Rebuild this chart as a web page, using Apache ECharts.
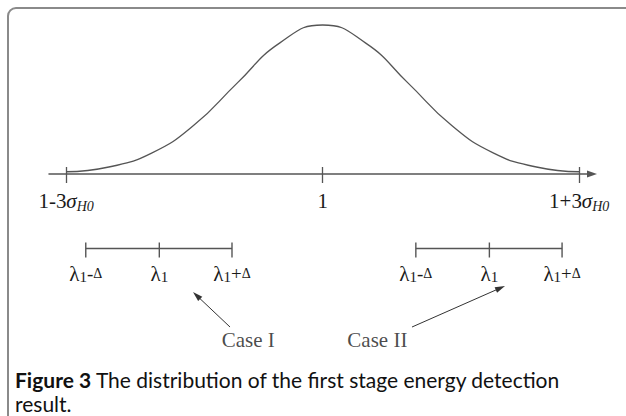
<!DOCTYPE html>
<html>
<head>
<meta charset="utf-8">
<script src="https://cdn.jsdelivr.net/npm/echarts@6/dist/echarts.min.js"></script>
<style>
  html, body { margin: 0; padding: 0; background: #fff; }
  #chart { width: 626px; height: 416px; }
</style>
</head>
<body>
<div id="chart"></div>
<script>
// x in units of sigma around the mean (1), y as fraction of the peak height
var curveX = [-3, -2.5, -2, -1.5, -1, -0.5, 0, 0.5, 1, 1.5, 2, 2.5, 3];
var curveY = [0.015, 0.047, 0.14, 0.33, 0.61, 0.88, 1.0, 0.88, 0.61, 0.33, 0.14, 0.047, 0.015];

// axis ticks and their labels
var tickValues = [-3, 0, 3];
var tickLabels = ["1-3σ_H0", "1", "1+3σ_H0"];

// the two threshold intervals below the axis
var caseIX = [-2.77, -1.91, -1.06];
var caseIIX = [1.09, 1.95, 2.8];
var intervalY = -0.5;
var intervalLabels = ["λ1-Δ", "λ1", "λ1+Δ"];

// case names and arrows pointing to the intervals
var caseNames = ["Case I", "Case II"];
var caseNameX = [-0.87, 0.64];
var caseNameY = -1.114;
var arrowFrom = [[-1.083, -1.027], [1.045, -1.027]];
var arrowTo = [[-1.474, -0.815], [2.079, -0.765]];

var captionBold = "Figure 3";
var captionText = " The distribution of the first stage energy detection\nresult.";

var SERIF = "'Liberation Serif', 'DejaVu Serif', serif";

function tickFormatter(value) {
  var i = tickValues.indexOf(value);
  if (i < 0) return "";
  var t = tickLabels[i];
  if (t.indexOf("σ") < 0) return "{a|" + t + "}";
  var parts = t.split("σ");
  return "{a|" + parts[0] + "}{s|σ}{sub|" + parts[1].replace("_", "") + "}";
}

function intervalFormatter(p) {
  var t = intervalLabels[p.dataIndex];
  var rest = t.replace("λ1", "");
  var out = "{l|λ}{n|1}";
  if (rest) out += "{o|" + rest.charAt(0) + "}{d|" + rest.slice(1) + "}";
  return out;
}

var intervalRich = {
  l: { fontFamily: SERIF, fontSize: 21, color: "#1a1a1a", lineHeight: 22 },
  n: { fontFamily: SERIF, fontSize: 15, color: "#1a1a1a", verticalAlign: "bottom", lineHeight: 19 },
  o: { fontFamily: SERIF, fontSize: 19, color: "#1a1a1a", lineHeight: 22 },
  d: { fontFamily: SERIF, fontSize: 14, color: "#1a1a1a", lineHeight: 22 }
};

var chart = echarts.init(document.getElementById("chart"), null, { renderer: "svg" });

var xMin = -3.2;
var xMax = 3.15;

var option = {
  animation: false,
  backgroundColor: "#fff",
  grid: [
    // curve area, its bottom edge is the horizontal axis
    { left: 49, right: 34, top: 25, bottom: 242, outerBoundsMode: "none" },
    // area below the axis: intervals, cases, arrows
    { left: 49, right: 34, top: 174, bottom: 3.6, outerBoundsMode: "none" }
  ],
  title: {
    left: 15,
    top: 367,
    padding: 0,
    text: "{b|" + captionBold + "}" + captionText,
    textStyle: {
      fontFamily: "Lato",
      fontSize: 21,
      fontWeight: "normal",
      color: "#111",
      lineHeight: 24,
      rich: {
        b: { fontFamily: "Lato", fontSize: 21, fontWeight: "bold", color: "#111", lineHeight: 24 }
      }
    }
  },
  graphic: [
    {
      type: "rect",
      shape: { x: 8, y: 8, width: 700, height: 500, r: 8 },
      style: { fill: "none", stroke: "#8a8a8a", lineWidth: 2 },
      silent: true
    }
  ],
  xAxis: [
    {
      gridIndex: 0,
      type: "value",
      min: xMin,
      max: xMax,
      position: "bottom",
      splitLine: { show: false },
      axisLine: {
        onZero: false,
        symbol: ["none", "triangle"],
        symbolSize: [7, 10],
        lineStyle: { color: "#555", width: 1.5 }
      },
      axisTick: {
        show: true,
        length: 9,
        customValues: tickValues,
        lineStyle: { color: "#555", width: 1.3 }
      },
      axisLabel: {
        show: true,
        margin: 15,
        customValues: tickValues,
        formatter: tickFormatter,
        rich: {
          a: { fontFamily: SERIF, fontSize: 21, color: "#1a1a1a", lineHeight: 24 },
          s: { fontFamily: SERIF, fontSize: 21, fontStyle: "italic", color: "#1a1a1a", lineHeight: 24 },
          sub: { fontFamily: SERIF, fontSize: 14, fontStyle: "italic", color: "#1a1a1a", verticalAlign: "bottom", lineHeight: 20 }
        }
      }
    },
    {
      // upper half of the axis ticks
      gridIndex: 1,
      type: "value",
      min: xMin,
      max: xMax,
      position: "top",
      splitLine: { show: false },
      axisLine: { show: false, onZero: false },
      axisTick: {
        show: true,
        length: 7,
        customValues: tickValues,
        lineStyle: { color: "#555", width: 1.3 }
      },
      axisLabel: { show: false }
    }
  ],
  yAxis: [
    { gridIndex: 0, type: "value", min: 0, max: 1, show: false, splitLine: { show: false } },
    { gridIndex: 1, type: "value", min: -1.6, max: 0, show: false, splitLine: { show: false } }
  ],
  series: [
    {
      name: "distribution",
      type: "line",
      smooth: 0.5,
      symbol: "none",
      clip: false,
      lineStyle: { color: "#555", width: 1.3 },
      data: curveX.map(function (x, i) { return [x, curveY[i]]; })
    },
    {
      name: "Case I interval",
      type: "line",
      xAxisIndex: 1,
      yAxisIndex: 1,
      clip: false,
      symbol: "rect",
      symbolSize: [1.4, 15],
      symbolOffset: [0, 1.5],
      showAllSymbol: true,
      lineStyle: { color: "#555", width: 1.3 },
      itemStyle: { color: "#555" },
      label: {
        show: true,
        position: "bottom",
        distance: 5,
        formatter: intervalFormatter,
        rich: intervalRich
      },
      data: caseIX.map(function (x) { return [x, intervalY]; }),
      markLine: {
        silent: true,
        symbol: ["none", "triangle"],
        symbolSize: [6, 10],
        label: { show: false },
        lineStyle: { color: "#333", width: 1, type: "solid" },
        data: arrowFrom.map(function (f, i) {
          return [{ coord: f }, { coord: arrowTo[i] }];
        })
      }
    },
    {
      name: "Case II interval",
      type: "line",
      xAxisIndex: 1,
      yAxisIndex: 1,
      clip: false,
      symbol: "rect",
      symbolSize: [1.4, 15],
      symbolOffset: [0, 1.5],
      showAllSymbol: true,
      lineStyle: { color: "#555", width: 1.3 },
      itemStyle: { color: "#555" },
      label: {
        show: true,
        position: "bottom",
        distance: 5,
        formatter: intervalFormatter,
        rich: intervalRich
      },
      data: caseIIX.map(function (x) { return [x, intervalY]; })
    },
    {
      name: "cases",
      type: "scatter",
      xAxisIndex: 1,
      yAxisIndex: 1,
      symbolSize: 1,
      itemStyle: { color: "rgba(0,0,0,0)" },
      label: {
        show: true,
        position: "inside",
        fontFamily: SERIF,
        fontSize: 21,
        color: "#1a1a1a",
        formatter: function (p) { return caseNames[p.dataIndex]; }
      },
      data: caseNameX.map(function (x) { return [x, caseNameY]; })
    }
  ]
};

chart.setOption(option);
window.addEventListener("resize", function () {
  chart.resize();
});
</script>
</body>
</html>
